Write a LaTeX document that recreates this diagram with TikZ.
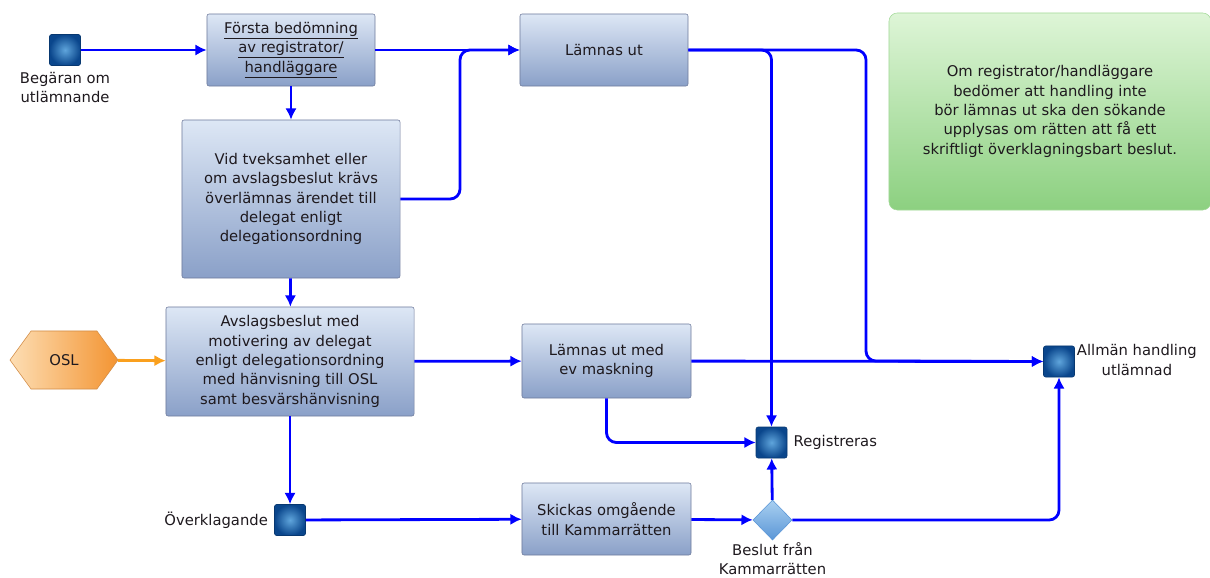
\documentclass[tikz,border=0pt]{standalone}
\usepackage{fontspec}
\setmainfont{DejaVu Sans}
\usepackage{tikz}
\usetikzlibrary{positioning,shapes.geometric,shapes.symbols,arrows.meta}
\definecolor{flowblue}{RGB}{0,0,255}
\definecolor{boxtop}{RGB}{221,231,245}
\definecolor{boxbot}{RGB}{138,160,200}
\definecolor{boxline}{RGB}{110,122,155}
\definecolor{sqin}{RGB}{95,165,220}
\definecolor{sqout}{RGB}{10,70,140}
\definecolor{diatop}{RGB}{170,208,240}
\definecolor{diabot}{RGB}{90,150,215}
\definecolor{notetop}{RGB}{222,245,215}
\definecolor{notebot}{RGB}{140,208,128}
\definecolor{osltop}{RGB}{253,222,180}
\definecolor{oslbot}{RGB}{243,148,50}
\definecolor{oslline}{RGB}{210,140,70}
\definecolor{oslarrow}{RGB}{250,160,30}
\definecolor{textc}{RGB}{30,25,30}

\begin{document}
\begin{tikzpicture}[x=0.025cm, y=-0.025cm, font=\fontsize{10.5}{13.8}\selectfont,
  box/.style={draw=boxline, rounded corners=1.5pt, top color=boxtop, bottom color=boxbot, align=center, text=textc, inner sep=1pt},
  sq/.style={draw=sqout!80!black, rounded corners=1.5pt, minimum size=0.775cm, inner sep=0pt, inner color=sqin, outer color=sqout},
  flow/.style={flowblue, line width=2pt, -{Latex[length=8pt,width=8pt]}, rounded corners=7pt},
  lbl/.style={align=center, text=textc}]
  \useasboundingbox (0,0) rectangle (1210,578);

  % note
  \node[rounded corners=6pt, top color=notetop, bottom color=notebot, draw=notebot!80!white, minimum width=8.05cm, minimum height=4.925cm, align=center, text=textc] (note) at (1050,111.5) {Om registrator/handläggare\\bedömer att handling inte\\bör lämnas ut ska den sökande\\upplysas om rätten att få ett\\skriftligt överklagningsbart beslut.};

  % nodes
  \node[sq] (start) at (65,50) {};
  \node[lbl, below=1pt of start] (startlbl) {Begäran om\\utlämnande};
  \node[box, minimum width=4.2cm, minimum height=1.8cm] (forsta) at (291,50) {\underline{Första bedömning}\\\underline{av registrator/}\\\underline{handläggare}};
  \node[box, minimum width=5.45cm, minimum height=3.95cm] (tveksam) at (291,199) {Vid tveksamhet eller\\om avslagsbeslut krävs\\överlämnas ärendet till\\delegat enligt\\delegationsordning};
  \node[box, minimum width=6.2cm, minimum height=2.725cm] (avslag) at (290,361.5) {Avslagsbeslut med\\motivering av delegat\\enligt delegationsordning\\med hänvisning till OSL\\samt besvärshänvisning};
  \node[signal, signal to=east and west, signal pointer angle=108, draw=oslline, shading angle=-60, left color=osltop, right color=oslbot, minimum width=2.7cm, minimum height=1.45cm, text=textc] (osl) at (64,360) {OSL};
  \node[box, minimum width=4.2cm, minimum height=1.8cm] (lamnas) at (604,50) {Lämnas ut};
  \node[box, minimum width=4.225cm, minimum height=1.85cm] (mask) at (606.5,361) {Lämnas ut med\\ev maskning};
  \node[box, minimum width=4.225cm, minimum height=1.8cm] (skicka) at (606.5,519) {Skickas omgående\\till Kammarrätten};
  \node[sq] (over) at (290,520) {};
  \node[lbl, left=1pt of over] (overlbl) {Överklagande};
  \node[sq] (reg) at (771.5,442.5) {};
  \node[lbl, right=1pt of reg] (reglbl) {Registreras};
  \node[sq] (allman) at (1059,361.5) {};
  \node[lbl, right=-2pt of allman, yshift=1pt] (allmanlbl) {Allmän handling\\utlämnad};
  \node[diamond, draw=diabot, top color=diatop, bottom color=diabot, minimum width=0.98cm, minimum height=1cm, inner sep=0pt] (beslut) at (772.5,520) {};
  \node[lbl, below=-2pt of beslut] (beslutlbl) {Beslut från\\Kammarrätten};

  \coordinate (j1) at (460,199);
  \coordinate (j2) at (866,361);

  % connectors
  \draw[flow] (start) -- (forsta);
  \draw[flow] (forsta) -- (tveksam);
  \draw[flow] (tveksam) -- (avslag);
  \draw[flow] (forsta) -- (lamnas);
  \draw[flow] (tveksam.east) -- (j1) |- (lamnas.west);
  \draw[flow] (lamnas.east) -| (reg.north);
  \draw[flow] (lamnas.east) -| (j2) -- (allman.west);
  \draw[flow, oslarrow] (osl) -- (avslag);
  \draw[flow] (avslag) -- (mask);
  \draw[flow] (mask) -- (allman);
  \draw[flow] (mask.south) |- (reg.west);
  \draw[flow] (avslag) -- (over);
  \draw[flow] (over) -- (skicka);
  \draw[flow] (skicka) -- (beslut);
  \draw[flow] (beslut) -- (reg);
  \draw[flow] (beslut.east) -| (allman.south);
\end{tikzpicture}
\end{document}
